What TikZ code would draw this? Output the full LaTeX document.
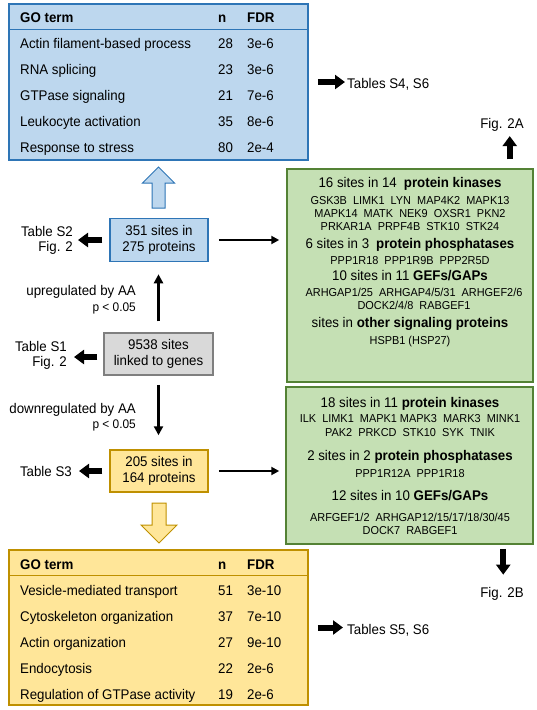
\documentclass[tikz,border=0pt]{standalone}
\usepackage{fontspec}
\setmainfont{Liberation Sans}[FakeStretch=0.95]
\usetikzlibrary{arrows.meta, calc, positioning}
\definecolor{upfill}{RGB}{189,215,238}
\definecolor{upline}{RGB}{46,117,182}
\definecolor{downfill}{RGB}{255,230,153}
\definecolor{downline}{RGB}{191,144,0}
\definecolor{kinfill}{RGB}{197,224,180}
\definecolor{kinline}{RGB}{84,130,53}
\definecolor{allfill}{RGB}{217,217,217}
\definecolor{allline}{RGB}{127,127,127}
\tikzset{
  >=Triangle,
  gotab/.style={minimum width=299pt, inner sep=0pt, line width=1.5pt},
  sitebox/.style={line width=1.5pt, minimum width=98pt, minimum height=43pt,
                  align=center, inner sep=0pt},
  kinbox/.style={fill=kinfill, draw=kinline, line width=1.5pt,
                 minimum width=246pt, inner sep=0pt},
  fatarrow/.style={-{Triangle[length=10pt, width=14pt]}, line width=6pt},
  thinarrow/.style={-{Triangle[length=9pt, width=9pt]}, line width=2.5pt},
  sidearrow/.style={-{Triangle[length=8pt, width=8pt]}, line width=2pt},
  sidelbl/.style={align=right, inner sep=0pt},
  cell/.style={anchor=base west, inner sep=0pt},
  hdline/.style={anchor=base, inner sep=0pt},
  genes/.style={font=\fontsize{11.5}{13}\selectfont, align=center, inner sep=0pt},
  pval/.style={font=\fontsize{12.5}{14}\selectfont, anchor=base east, inner sep=0pt},
}

\begin{document}
\begin{tikzpicture}[x=1pt, y=-1pt, font=\fontsize{14}{15.5}\selectfont]
  \useasboundingbox (0,0) rectangle (537,710);

  % ---- GO table, upregulated ----
  \node[gotab, fill=upfill, draw=upline, minimum height=156pt]
    (gotabup) at (158.5,82) {};
  \draw[upline, line width=1.5pt]
    ($(gotabup.north west)+(0,26)$) -- ($(gotabup.north east)+(0,26)$);
  \node[cell] (uphd)  at (20,22)  {\textbf{GO term}};
  \node[cell] (uphdn) at (218,22) {\textbf{n}};
  \node[cell] (uphdf) at (247,22) {\textbf{FDR}};
  \foreach \goname/\gon/\gofdr [count=\i] in
    {Actin filament-based process/28/3e-6, RNA splicing/23/3e-6,
     GTPase signaling/21/7e-6, Leukocyte activation/35/8e-6,
     Response to stress/80/2e-4} {
    \node[cell] (upterm\i) at (20,22+26*\i)  {\goname};
    \node[cell] (upn\i)    at (218,22+26*\i) {\gon};
    \node[cell] (upfdr\i)  at (247,22+26*\i) {\gofdr};
  }
  \node[cell] (tabS4) at (347,88) {Tables S4, S6};
  \draw[fatarrow, shorten <=9pt, shorten >=2pt]
    (gotabup.east) -- (gotabup.east -| tabS4.west);

  % block arrow up
  \draw[upline, fill=upfill, line width=1pt]
    (152,208) -- (152,183) -- (142.5,183) -- (158.5,167)
    -- (174.5,183) -- (165,183) -- (165,208) -- cycle;

  % ---- site boxes ----
  \node[sitebox, fill=upfill, draw=upline] (upbox) at (159,240)
    {351 sites in\\275 proteins};
  \node[sitebox, fill=allfill, draw=allline, minimum width=109pt,
        minimum height=42pt] (allbox) at (158.5,354)
    {9538 sites\\linked to genes};
  \node[sitebox, fill=downfill, draw=downline, minimum height=42pt]
    (downbox) at (159,471) {205 sites in\\164 proteins};

  \node[sidelbl, anchor=east] (tabS2) at (73,240.5) {Table S2\\Fig. 2};
  \node[sidelbl, anchor=east] (tabS1) at (67,355.5) {Table S1\\Fig. 2};
  \node[sidelbl, anchor=base east] (tabS3) at (72,476) {Table S3};
  \draw[fatarrow, shorten <=7pt, shorten >=5pt]
    (upbox.west) -- (upbox.west -| tabS2.east);
  \draw[fatarrow, shorten <=6pt, shorten >=7pt]
    ([yshift=-3pt]allbox.west) -- ([yshift=-3pt]allbox.west -| tabS1.east);
  \draw[fatarrow, shorten <=7pt, shorten >=7pt]
    (downbox.west) -- (downbox.west -| tabS3.east);

  \node[sidelbl, anchor=base east] (uplbl) at (136,295) {upregulated by AA};
  \node[pval] (upp) at (136,311) {p < 0.05};
  \node[sidelbl, anchor=base east] (downlbl) at (136,413) {downregulated by AA};
  \node[pval] (downp) at (136,428) {p < 0.05};

  \draw[thinarrow, shorten <=11pt, shorten >=12pt]
    (allbox.north) -- (allbox.north |- upbox.south);
  \draw[thinarrow, shorten <=9pt, shorten >=14pt]
    (allbox.south) -- (allbox.south |- downbox.north);

  % ---- green boxes ----
  \node[kinbox, minimum height=213pt] (kinup) at (410,275.5) {};
  \node[hdline] (kinup1) at (410,187)
    {16 sites in 14\enspace\textbf{protein kinases}};
  \node[genes] (kinupg1) at (410,214)
    {GSK3B~~LIMK1~~LYN~~MAP4K2~~MAPK13\\
     MAPK14~~MATK~~NEK9~~OXSR1~~PKN2\\
     PRKAR1A~~PRPF4B~~STK10~~STK24};
  \node[hdline] (kinup2) at (410,248)
    {6 sites in 3\enspace\textbf{protein phosphatases}};
  \node[genes, anchor=base] (kinupg2) at (410,264)
    {PPP1R18~~PPP1R9B~~PPP2R5D};
  \node[hdline] (kinup3) at (410,280) {10 sites in 11 \textbf{GEFs/GAPs}};
  \node[genes] (kinupg3) at (414,298.5)
    {ARHGAP1/25~~ARHGAP4/5/31~~ARHGEF2/6\\DOCK2/4/8~~RABGEF1};
  \node[hdline] (kinup4) at (410,327)
    {sites in \textbf{other signaling proteins}};
  \node[genes, anchor=base] (kinupg4) at (410,344) {HSPB1 (HSP27)};

  \node[kinbox, minimum width=247pt, minimum height=157pt]
    (kindown) at (409.5,465.5) {};
  \node[hdline] (kindown1) at (410,407)
    {18 sites in 11 \textbf{protein kinases}};
  \node[genes, font=\fontsize{11.5}{14}\selectfont] (kindowng1) at (410,426)
    {ILK~~LIMK1~~MAPK1 MAPK3~~MARK3~~MINK1\\
     PAK2~~PRKCD~~STK10~~SYK~~TNIK};
  \node[hdline] (kindown2) at (410,460)
    {2 sites in 2 \textbf{protein phosphatases}};
  \node[genes, anchor=base] (kindowng2) at (410,477)
    {PPP1R12A~~PPP1R18};
  \node[hdline] (kindown3) at (410,500) {12 sites in 10 \textbf{GEFs/GAPs}};
  \node[genes] (kindowng3) at (410,523.5)
    {ARFGEF1/2~~ARHGAP12/15/17/18/30/45\\DOCK7~~RABGEF1};

  \draw[sidearrow, shorten <=10pt, shorten >=7pt]
    (upbox.east) -- (upbox.east -| kinup.west);
  \draw[sidearrow, shorten <=10pt, shorten >=6pt]
    (downbox.east) -- (downbox.east -| kindown.west);

  \node[hdline] (fig2a) at (502,128) {Fig. 2A};
  \node[hdline] (fig2b) at (502,597) {Fig. 2B};
  \coordinate (a2a) at ($(kinup.north east)+(-24,0)$);
  \coordinate (a2b) at ($(kindown.south east)+(-30.5,0)$);
  \draw[fatarrow, shorten <=9pt, shorten >=5pt] (a2a) -- (a2a |- fig2a.south);
  \draw[fatarrow, shorten <=4pt, shorten >=12pt] (a2b) -- (a2b |- fig2b.north);

  % block arrow down
  \draw[downline, fill=downfill, line width=1pt]
    (152,503) -- (152,525) -- (141,525) -- (159,543)
    -- (177,525) -- (166,525) -- (166,503) -- cycle;

  % ---- GO table, downregulated ----
  \node[gotab, fill=downfill, draw=downline, minimum height=155pt]
    (gotabdown) at (158.5,627.5) {};
  \draw[downline, line width=1.5pt]
    ($(gotabdown.north west)+(0,26)$) -- ($(gotabdown.north east)+(0,26)$);
  \node[cell] (dnhd)  at (20,569)  {\textbf{GO term}};
  \node[cell] (dnhdn) at (218,569) {\textbf{n}};
  \node[cell] (dnhdf) at (247,569) {\textbf{FDR}};
  \foreach \goname/\gon/\gofdr [count=\i] in
    {Vesicle-mediated transport/51/3e-10, Cytoskeleton organization/37/7e-10,
     Actin organization/27/9e-10, Endocytosis/22/2e-6,
     Regulation of GTPase activity/19/2e-6} {
    \node[cell] (dnterm\i) at (20,569+26*\i)  {\goname};
    \node[cell] (dnn\i)    at (218,569+26*\i) {\gon};
    \node[cell] (dnfdr\i)  at (247,569+26*\i) {\gofdr};
  }
  \node[cell] (tabS5) at (347,634) {Tables S5, S6};
  \draw[fatarrow, shorten <=9pt, shorten >=4pt]
    (gotabdown.east) -- (gotabdown.east -| tabS5.west);

\end{tikzpicture}
\end{document}
